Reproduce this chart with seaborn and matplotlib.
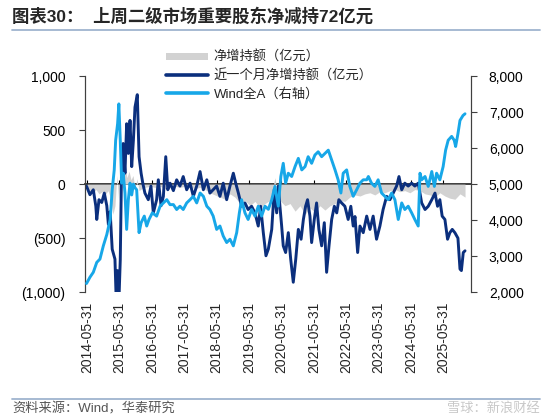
import pandas as pd
import matplotlib
matplotlib.use('Agg')
import matplotlib.pyplot as plt
import matplotlib.dates as mdates
from matplotlib.patches import Patch
from matplotlib.lines import Line2D
import seaborn as sns

# 近一个月净增持额（亿元）, left axis
month_dates = ['2014-05-25', '2014-07-03', '2014-08-10', '2014-09-07', '2014-09-18', '2014-10-13',
               '2014-11-13', '2014-12-12', '2015-01-09', '2015-01-27', '2015-02-16', '2015-03-11',
               '2015-04-11', '2015-04-28', '2015-05-09', '2015-05-23', '2015-06-10', '2015-06-26',
               '2015-07-13', '2015-08-02', '2015-08-21', '2015-09-09', '2015-09-28', '2015-10-17',
               '2015-11-05', '2015-11-23', '2015-12-19', '2016-01-08', '2016-01-31', '2016-02-19',
               '2016-03-14', '2016-04-21', '2016-05-21', '2016-06-17', '2016-07-24', '2016-08-12',
               '2016-09-12', '2016-10-08', '2016-11-04', '2016-11-27', '2016-12-22', '2017-01-29',
               '2017-03-07', '2017-04-13', '2017-05-20', '2017-06-28', '2017-08-05', '2017-09-11',
               '2017-10-19', '2017-11-26', '2018-01-02', '2018-02-10', '2018-03-17', '2018-04-23',
               '2018-06-01', '2018-07-08', '2018-08-14', '2018-09-22', '2018-10-29', '2018-12-06',
               '2019-01-02', '2019-02-01', '2019-03-09', '2019-04-16', '2019-05-22', '2019-06-30',
               '2019-08-07', '2019-09-13', '2019-10-10', '2019-11-09', '2019-12-09', '2020-01-05',
               '2020-02-12', '2020-03-11', '2020-04-08', '2020-04-26', '2020-05-14', '2020-06-03',
               '2020-06-21', '2020-07-18', '2020-08-17', '2020-09-13', '2020-10-12', '2020-11-09',
               '2020-12-08', '2021-01-08', '2021-02-03', '2021-02-28', '2021-03-22', '2021-04-18',
               '2021-05-07', '2021-06-06', '2021-07-02', '2021-07-28', '2021-08-28', '2021-09-27',
               '2021-10-23', '2021-11-19', '2021-12-19', '2022-01-18', '2022-02-14', '2022-03-10',
               '2022-04-10', '2022-05-17', '2022-06-23', '2022-07-23', '2022-08-19', '2022-09-08',
               '2022-10-08', '2022-11-03', '2022-12-10', '2023-01-18', '2023-02-24', '2023-04-01',
               '2023-05-09', '2023-06-16', '2023-07-22', '2023-08-31', '2023-10-07', '2023-11-13',
               '2023-12-21', '2024-01-17', '2024-02-17', '2024-03-23', '2024-04-30', '2024-06-08',
               '2024-07-14', '2024-08-21', '2024-09-29', '2024-11-06', '2024-12-12', '2025-01-21',
               '2025-02-26', '2025-03-27', '2025-04-22', '2025-05-18', '2025-06-18', '2025-07-18',
               '2025-08-13', '2025-09-09', '2025-10-09', '2025-11-12', '2025-12-05', '2025-12-21',
               '2026-01-11', '2026-01-31']
month_net = [-18, -98, -52, -202, -327, -144,
             -170, -83, -200, -373, -255, -602,
             -694, -1150, -800, -1150, -700, 223,
             376, 101, 559, 284, 590, 162,
             406, 712, 828, 254, 101, 9,
             -83, -144, -18, -266, -144, 40,
             -200, -113, 254, -52, 9, -60,
             40, -18, 70, -52, 9, -113,
             -18, 116, -52, 40, -83, -52,
             -18, -113, 9, -144, -18, 101,
             9, -83, -205, -174, -235, -205,
             -266, -388, -205, -449, -663, -600,
             -419, -52, -266, -18, -200, -388,
             -571, -633, -449, -694, -908, -694,
             -419, -510, -327, -205, -144, -296,
             -541, -327, -174, -419, -571, -357,
             -816, -571, -327, -205, -266, -144,
             -174, -205, -327, -205, -388, -300,
             -633, -388, -449, -296, -419, -296,
             -510, -388, -235, -113, -144, -83,
             -18, 70, -52, 9, -18, 9,
             -18, 9, -174, -235, -205, -144,
             -83, -205, -144, -296, -327, -510,
             -449, -419, -450, -500, -786, -800,
             -633, -617]

# Wind全A, right axis
wind_dates = ['2014-05-25', '2014-07-03', '2014-08-10', '2014-09-18', '2014-10-24', '2014-12-01',
              '2015-01-09', '2015-02-16', '2015-03-11', '2015-04-03', '2015-04-19', '2015-05-11',
              '2015-05-25', '2015-06-10', '2015-06-26', '2015-07-13', '2015-08-02', '2015-08-21',
              '2015-09-09', '2015-09-28', '2015-10-17', '2015-11-05', '2015-11-23', '2015-12-12',
              '2016-01-08', '2016-01-31', '2016-03-07', '2016-04-03', '2016-04-29', '2016-06-06',
              '2016-07-24', '2016-09-01', '2016-10-08', '2016-11-16', '2016-12-22', '2017-01-29',
              '2017-03-07', '2017-04-13', '2017-05-20', '2017-06-28', '2017-08-05', '2017-09-11',
              '2017-10-19', '2017-11-26', '2018-01-02', '2018-02-10', '2018-03-17', '2018-04-23',
              '2018-06-01', '2018-07-08', '2018-08-14', '2018-09-22', '2018-10-29', '2018-12-06',
              '2019-01-13', '2019-02-12', '2019-03-09', '2019-04-16', '2019-05-22', '2019-06-30',
              '2019-08-07', '2019-09-13', '2019-10-21', '2019-11-28', '2020-01-05', '2020-02-12',
              '2020-03-19', '2020-04-26', '2020-05-25', '2020-06-21', '2020-07-18', '2020-08-17',
              '2020-09-24', '2020-11-01', '2020-12-08', '2021-01-16', '2021-02-22', '2021-03-29',
              '2021-05-07', '2021-06-13', '2021-07-20', '2021-08-28', '2021-10-04', '2021-11-11',
              '2021-12-19', '2022-01-26', '2022-03-02', '2022-04-02', '2022-04-28', '2022-06-06',
              '2022-07-12', '2022-08-19', '2022-09-27', '2022-11-03', '2022-12-10', '2023-01-18',
              '2023-02-06', '2023-03-13', '2023-04-20', '2023-05-27', '2023-07-05', '2023-08-11',
              '2023-09-18', '2023-10-26', '2023-12-02', '2024-01-09', '2024-02-17', '2024-03-23',
              '2024-04-30', '2024-06-08', '2024-07-14', '2024-08-21', '2024-09-10', '2024-09-29',
              '2024-11-06', '2024-12-12', '2025-01-21', '2025-02-19', '2025-03-16', '2025-04-22',
              '2025-05-29', '2025-06-26', '2025-07-25', '2025-09-02', '2025-10-01', '2025-10-17',
              '2025-11-12', '2025-12-05', '2026-01-08', '2026-01-31']
wind_index = [2240, 2415, 2553, 2828, 2920, 3287,
              3600, 4018, 4843, 5393, 6218, 6678,
              7228, 6218, 5028, 5303, 4753, 3743,
              4568, 5028, 4700, 5000, 4900, 4843,
              3653, 3928, 4112, 3837, 4018, 4203,
              4112, 4387, 4478, 4568, 4430, 4432,
              4295, 4387, 4295, 4478, 4568, 4662,
              4478, 4753, 4662, 4387, 4295, 4112,
              3743, 3837, 3560, 3378, 3470, 3287,
              3653, 4203, 4568, 4203, 4018, 4295,
              4112, 4387, 4112, 4387, 4300, 4568,
              4937, 4387, 5212, 5578, 5028, 5303,
              5212, 5487, 5715, 5395, 5487, 5762,
              5578, 5808, 5898, 5762, 5853, 5943,
              5670, 5395, 5120, 4753, 5303, 5395,
              4937, 4662, 4845, 5028, 5120, 5120,
              5212, 5028, 4937, 5120, 4753, 4662,
              4568, 4753, 4568, 4018, 4478, 4295,
              4387, 4203, 4018, 3837, 5303, 5120,
              5212, 4937, 5350, 4937, 5303, 5120,
              5487, 5943, 6218, 6325, 6218, 6045,
              6400, 6768, 6905, 6953]

# 净增持额（亿元）, left axis
week_dates = ['2014-05-31', '2014-07-03', '2014-08-07', '2014-09-10', '2014-10-13', '2014-11-17',
              '2014-12-20', '2015-01-23', '2015-02-27', '2015-03-19', '2015-04-11', '2015-05-03',
              '2015-05-23', '2015-06-18', '2015-07-10', '2015-08-02', '2015-08-24', '2015-09-17',
              '2015-10-09', '2015-11-01', '2015-11-23', '2015-12-16', '2016-01-08', '2016-02-11',
              '2016-03-14', '2016-05-10', '2016-07-06', '2016-09-01', '2016-10-27', '2016-12-22',
              '2017-02-18', '2017-04-13', '2017-06-09', '2017-08-05', '2017-09-30', '2017-11-26',
              '2018-01-21', '2018-03-17', '2018-05-12', '2018-07-08', '2018-09-03', '2018-10-29',
              '2018-12-24', '2019-02-20', '2019-04-16', '2019-06-11', '2019-08-07', '2019-10-02',
              '2019-11-28', '2020-01-23', '2020-03-19', '2020-04-22', '2020-05-25', '2020-07-10',
              '2020-09-06', '2020-11-01', '2020-12-27', '2021-02-22', '2021-04-18', '2021-06-13',
              '2021-08-09', '2021-10-04', '2021-11-30', '2022-01-26', '2022-03-21', '2022-05-17',
              '2022-07-12', '2022-09-08', '2022-11-03', '2022-12-29', '2023-02-24', '2023-04-20',
              '2023-06-16', '2023-08-11', '2023-10-07', '2023-12-02', '2024-01-28', '2024-03-23',
              '2024-05-19', '2024-07-14', '2024-09-10', '2024-11-06', '2025-01-01', '2025-02-26',
              '2025-04-22', '2025-06-18', '2025-08-13', '2025-10-09', '2025-12-05', '2026-01-31']
week_net = [-30, -60, -80, -50, -90, -70,
            -100, -60, -150, -280, -200, 80,
            -150, 150, 100, 180, 60, 120,
            40, 80, -40, 50, -60, -40,
            -30, -20, -30, -20, -40, -30,
            -20, -30, -20, -30, -40, -30,
            -50, -80, -100, -120, -140, -90,
            -120, -180, -150, -200, -160, -220,
            -180, -150, 60, -100, -160, -200,
            -180, -250, -200, -280, -220, -260,
            -200, -240, -200, -180, -150, -160,
            -120, -100, -110, -90, -80, -100,
            -70, -80, -60, -50, -70, -60,
            -80, -50, -60, -90, -100, -120,
            -80, -110, -130, -140, -90, -120]

tick_dates = ['2014-05-31', '2015-05-31', '2016-05-31', '2017-05-31', '2018-05-31', '2019-05-31',
              '2020-05-31', '2021-05-31', '2022-05-31', '2023-05-31', '2024-05-31', '2025-05-31']
left_ticks = [-1000, -500, 0, 500, 1000]
left_labels = ['(1,000)', '(500)', '0', '500', '1,000']
right_ticks = [2000, 3000, 4000, 5000, 6000, 7000, 8000]
right_labels = ['2,000', '3,000', '4,000', '5,000', '6,000', '7,000', '8,000']

dark_blue = '#0b2f7d'
light_blue = '#17a7e8'
grey = '#d2d2d2'
rule = '#9fb4cf'

month_df = pd.DataFrame({'date': pd.to_datetime(month_dates), 'value': month_net})
wind_df = pd.DataFrame({'date': pd.to_datetime(wind_dates), 'value': wind_index})
week_df = pd.DataFrame({'date': pd.to_datetime(week_dates), 'value': week_net})

sns.set_theme(style='white')
plt.rcParams['font.family'] = ['Liberation Sans', 'Noto Sans CJK SC']
plt.rcParams['axes.unicode_minus'] = False

fig = plt.figure(figsize=(5.5, 4.18), dpi=100)
ax = fig.add_axes([0.1545, 0.301, 0.7015, 0.517])
ax2 = ax.twinx()

# grey weekly area, then the two lines
ax.fill_between(week_df['date'], 0, week_df['value'], color=grey, lw=0, zorder=1)
sns.lineplot(data=month_df, x='date', y='value', ax=ax, color=dark_blue, lw=2.1,
             estimator=None, zorder=3)
sns.lineplot(data=wind_df, x='date', y='value', ax=ax2, color=light_blue, lw=2.1,
             estimator=None, zorder=3)

ax.set_xlim(pd.Timestamp('2014-05-08'), pd.Timestamp('2026-04-06'))
ax.set_ylim(-1000, 1000)
ax2.set_ylim(2000, 8000)

ax.set_yticks(left_ticks)
ax.set_yticklabels(left_labels)
ax2.set_yticks(right_ticks)
ax2.set_yticklabels(right_labels)

ax.set_xticks(pd.to_datetime(tick_dates))
ax.xaxis.set_major_formatter(mdates.DateFormatter('%Y-%m-%d'))
ax.tick_params(axis='x', length=0, pad=7, labelsize=10, rotation=90)
ax.tick_params(axis='y', left=True, length=4, width=0.8, color='#404040', pad=10,
               labelsize=10, labelcolor='black')
ax2.tick_params(axis='y', right=True, length=4, width=0.8, color='#404040', pad=9,
                labelsize=10, labelcolor='black')

for a in (ax, ax2):
    a.set_xlabel('')
    a.set_ylabel('')
    a.grid(False)
    a.spines['top'].set_visible(False)
    a.spines['bottom'].set_visible(False)
    a.spines['left'].set_color('#404040')
    a.spines['right'].set_color('#404040')
    a.spines['left'].set_linewidth(0.8)
    a.spines['right'].set_linewidth(0.8)
ax.patch.set_visible(False)

# zero line with small year ticks
zero = ax.secondary_xaxis(0.5)
zero.set_xticks(mdates.date2num(pd.to_datetime(tick_dates)))
zero.set_xticklabels([])
zero.tick_params(axis='x', length=3, width=0.8, color='black', direction='out')
zero.spines['bottom'].set_color('black')
zero.spines['bottom'].set_linewidth(1.2)

handles = [Patch(facecolor=grey, edgecolor='none'),
           Line2D([], [], color=dark_blue, lw=2.6),
           Line2D([], [], color=light_blue, lw=2.6)]
labels = ['净增持额（亿元）', '近一个月净增持额（亿元）', 'Wind全A（右轴）']
fig.legend(handles, labels, loc='upper left', bbox_to_anchor=(0.285, 0.9), frameon=False,
           fontsize=9.5, handlelength=3.2, handleheight=0.5, handletextpad=0.4, labelspacing=0.4,
           borderpad=0.2)

fig.text(0.022, 0.962, '图表30：  上周二级市场重要股东净减持72亿元', fontsize=12.5,
         fontweight='bold', ha='left', va='center')
fig.add_artist(Line2D([0.022, 0.982], [0.929, 0.929], color=rule, lw=1.3))
fig.add_artist(Line2D([0.022, 0.982], [0.045, 0.045], color=rule, lw=1.3))
fig.text(0.022, 0.022, '资料来源：Wind，华泰研究', fontsize=9.5, color='#555555',
         ha='left', va='center')
fig.text(0.982, 0.022, '雪球：新浪财经', fontsize=9.5, color='#c8c8c8', ha='right', va='center')

fig.savefig('out.png', dpi=100)
